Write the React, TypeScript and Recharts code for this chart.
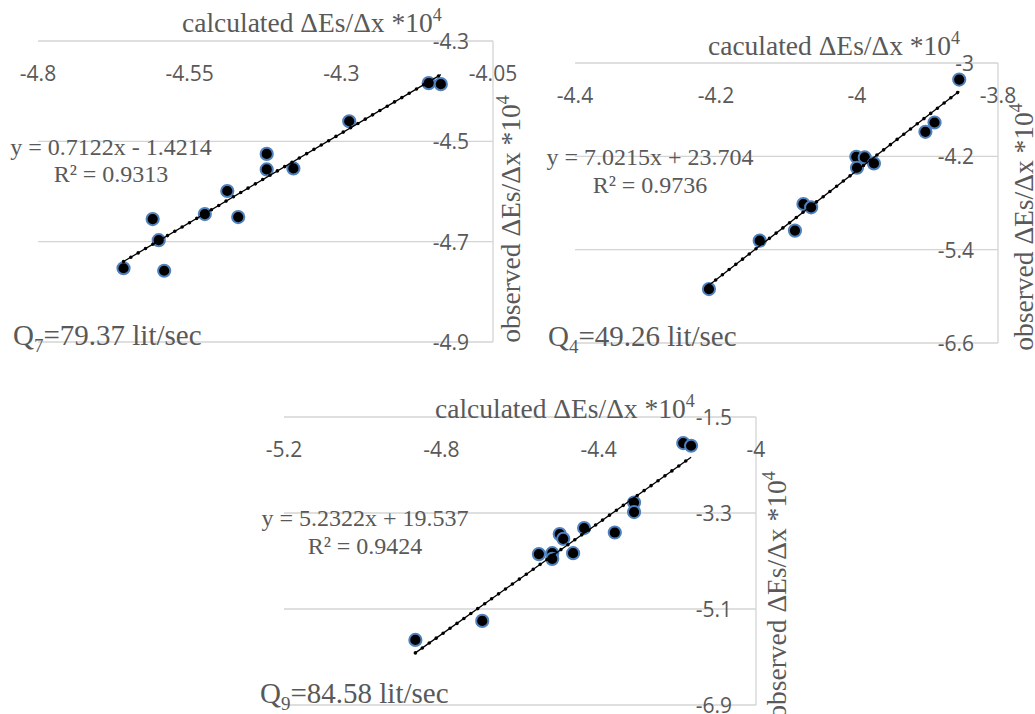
import React from "react";
import { ScatterChart, Scatter, XAxis, YAxis, CartesianGrid } from "recharts";

// Q7 = 79.37 lit/sec
const calc7 = [-4.659, -4.611, -4.601, -4.592, -4.525, -4.488, -4.47, -4.423, -4.423, -4.379, -4.287, -4.156, -4.136];
const obs7 = [-4.753, -4.655, -4.697, -4.758, -4.645, -4.599, -4.651, -4.525, -4.556, -4.554, -4.46, -4.384, -4.386];
const xTicks7 = [-4.8, -4.55, -4.3, -4.05];
const yTicks7 = [-4.3, -4.5, -4.7, -4.9];

// Q4 = 49.26 lit/sec
const calc4 = [-4.21, -4.138, -4.088, -4.076, -4.065, -4.001, -4.0, -3.989, -3.976, -3.903, -3.89, -3.855];
const obs4 = [-5.907, -5.284, -5.155, -4.813, -4.855, -4.206, -4.347, -4.214, -4.291, -3.885, -3.765, -3.213];
const xTicks4 = [-4.4, -4.2, -4, -3.8];
const yTicks4 = [-3, -4.2, -5.4, -6.6];

// Q9 = 84.58 lit/sec
const calc9 = [-4.866, -4.696, -4.552, -4.518, -4.518, -4.499, -4.49, -4.465, -4.437, -4.359, -4.31, -4.31, -4.185, -4.165];
const obs9 = [-5.68, -5.323, -4.071, -4.053, -4.16, -3.696, -3.784, -4.053, -3.583, -3.666, -3.103, -3.283, -1.988, -2.039];
const xTicks9 = [-5.2, -4.8, -4.4, -4];
const yTicks9 = [-1.5, -3.3, -5.1, -6.9];

// trendline equations shown on the chart
const fit7 = { a: 0.7122, b: -1.4214, r2: "0.9313" };
const fit4 = { a: 7.0215, b: 23.704, r2: "0.9736" };
const fit9 = { a: 5.2322, b: 19.537, r2: "0.9424" };

const GRAY = "#595959";
const GRID = "#d4d4d4";
const TICK_FONT = "'Open Sans', sans-serif";
const SERIF = "'Liberation Serif', 'Times New Roman', serif";
const PAD = 40;

const toPoints = (xs: number[], ys: number[]) => xs.map((x, i) => ({ x, y: ys[i] }));

const trendPoints = (xs: number[], fit: { a: number; b: number }) => {
  const lo = Math.min(...xs);
  const hi = Math.max(...xs);
  return [
    { x: lo, y: fit.a * lo + fit.b },
    { x: hi, y: fit.a * hi + fit.b },
  ];
};

const Marker = (p: any) => (
  <circle cx={p.cx} cy={p.cy} r={6.1} fill="#000" stroke="#4f81bd" strokeWidth={2} />
);
const NoShape = () => <g />;

interface PanelProps {
  plot: { x0: number; x1: number; y0: number; y1: number };
  calc: number[];
  obs: number[];
  xTicks: number[];
  yTicks: number[];
  fit: { a: number; b: number };
}

function Panel({ plot, calc, obs, xTicks, yTicks, fit }: PanelProps) {
  const w = plot.x1 - plot.x0;
  const h = plot.y1 - plot.y0;
  const data = toPoints(calc, obs);
  const trend = trendPoints(calc, fit);
  const xLabelY = PAD + 31.5;
  const yLabelX = PAD + w - 24;

  return (
    <div style={{ position: "absolute", left: plot.x0 - PAD, top: plot.y0 - PAD }}>
      <ScatterChart
        width={w + PAD * 2}
        height={h + PAD * 2}
        margin={{ left: PAD, right: PAD - 2, top: PAD - 2, bottom: PAD }}
      >
        <CartesianGrid vertical={false} stroke={GRID} strokeWidth={1.3} />
        <XAxis
          type="number"
          dataKey="x"
          orientation="top"
          height={2}
          domain={[xTicks[0], xTicks[xTicks.length - 1]]}
          ticks={xTicks}
          interval={0}
          axisLine={false}
          tickLine={false}
          allowDataOverflow
          tick={(t: any) => (
            <text x={t.x} y={xLabelY} textAnchor="middle" dominantBaseline="central"
              fill={GRAY} fontSize={21} fontFamily={TICK_FONT}>
              {String(t.payload.value)}
            </text>
          )}
        />
        <YAxis
          type="number"
          dataKey="y"
          orientation="right"
          width={2}
          domain={[yTicks[yTicks.length - 1], yTicks[0]]}
          ticks={yTicks}
          interval={0}
          axisLine={{ stroke: GRID, strokeWidth: 1.3 }}
          tickLine={false}
          allowDataOverflow
          tick={(t: any) => (
            <text x={yLabelX} y={t.y} textAnchor="end" dominantBaseline="central"
              fill={GRAY} fontSize={21} fontFamily={TICK_FONT}>
              {String(t.payload.value)}
            </text>
          )}
        />
        <Scatter data={data} shape={Marker} isAnimationActive={false} />
        <Scatter data={trend} shape={NoShape} isAnimationActive={false}
          line={{ stroke: "#000", strokeWidth: 1.3 }} />
        <Scatter data={trend} shape={NoShape} isAnimationActive={false}
          line={{ stroke: "#000", strokeWidth: 3.6, strokeDasharray: "0 8.5", strokeLinecap: "round" }} />
      </ScatterChart>
    </div>
  );
}

const Title = ({ x, y, word }: { x: number; y: number; word: string }) => (
  <text x={x} y={y} fill={GRAY} fontSize={27.5} fontFamily={SERIF}>
    {word} ΔEs/Δx *10<tspan dy={-11} fontSize={18}>4</tspan>
  </text>
);

const YTitle = ({ x, y }: { x: number; y: number }) => (
  <text x={x} y={y} transform={`rotate(-90 ${x} ${y})`} textAnchor="middle"
    fill={GRAY} fontSize={27.5} fontFamily={SERIF}>
    observed ΔEs/Δx *10<tspan dy={-11} fontSize={18}>4</tspan>
  </text>
);

const Equation = ({ x, y, fit, gap }: { x: number; y: number; fit: { a: number; b: number; r2: string }; gap: number }) => (
  <g fill={GRAY} fontSize={24} fontFamily={SERIF} textAnchor="middle">
    <text x={x} y={y}>
      {`y = ${fit.a}x ${fit.b < 0 ? "-" : "+"} ${Math.abs(fit.b)}`}
    </text>
    <text x={x} y={y + gap}>{`R² = ${fit.r2}`}</text>
  </g>
);

const FlowLabel = ({ x, y, sub, value }: { x: number; y: number; sub: string; value: string }) => (
  <text x={x} y={y} fill={GRAY} fontSize={29} fontFamily={SERIF}>
    Q<tspan dy={7} fontSize={19}>{sub}</tspan>
    <tspan dy={-7}>={value} lit/sec</tspan>
  </text>
);

export default function App() {
  return (
    <div style={{ position: "absolute", left: 0, top: 0, width: 1035, height: 714, background: "#fff", overflow: "hidden" }}>
      <Panel plot={{ x0: 38, x1: 493, y0: 41, y1: 342 }} calc={calc7} obs={obs7}
        xTicks={xTicks7} yTicks={yTicks7} fit={fit7} />
      <Panel plot={{ x0: 575, x1: 998, y0: 63, y1: 343 }} calc={calc4} obs={obs4}
        xTicks={xTicks4} yTicks={yTicks4} fit={fit4} />
      <Panel plot={{ x0: 284, x1: 756, y0: 417, y1: 705 }} calc={calc9} obs={obs9}
        xTicks={xTicks9} yTicks={yTicks9} fit={fit9} />
      <svg width={1035} height={714} style={{ position: "absolute", left: 0, top: 0, pointerEvents: "none" }}>
        <Title x={182} y={32} word="calculated" />
        <Title x={708} y={55} word="caculated" />
        <Title x={435} y={418} word="calculated" />
        <YTitle x={520} y={219} />
        <YTitle x={1033} y={227} />
        <YTitle x={786} y={595} />
        <Equation x={111} y={155} fit={fit7} gap={26.5} />
        <Equation x={650} y={165} fit={fit4} gap={28} />
        <Equation x={365} y={526} fit={fit9} gap={27.5} />
        <FlowLabel x={13} y={345} sub="7" value="79.37" />
        <FlowLabel x={548} y={346} sub="4" value="49.26" />
        <FlowLabel x={260} y={703} sub="9" value="84.58" />
      </svg>
    </div>
  );
}
